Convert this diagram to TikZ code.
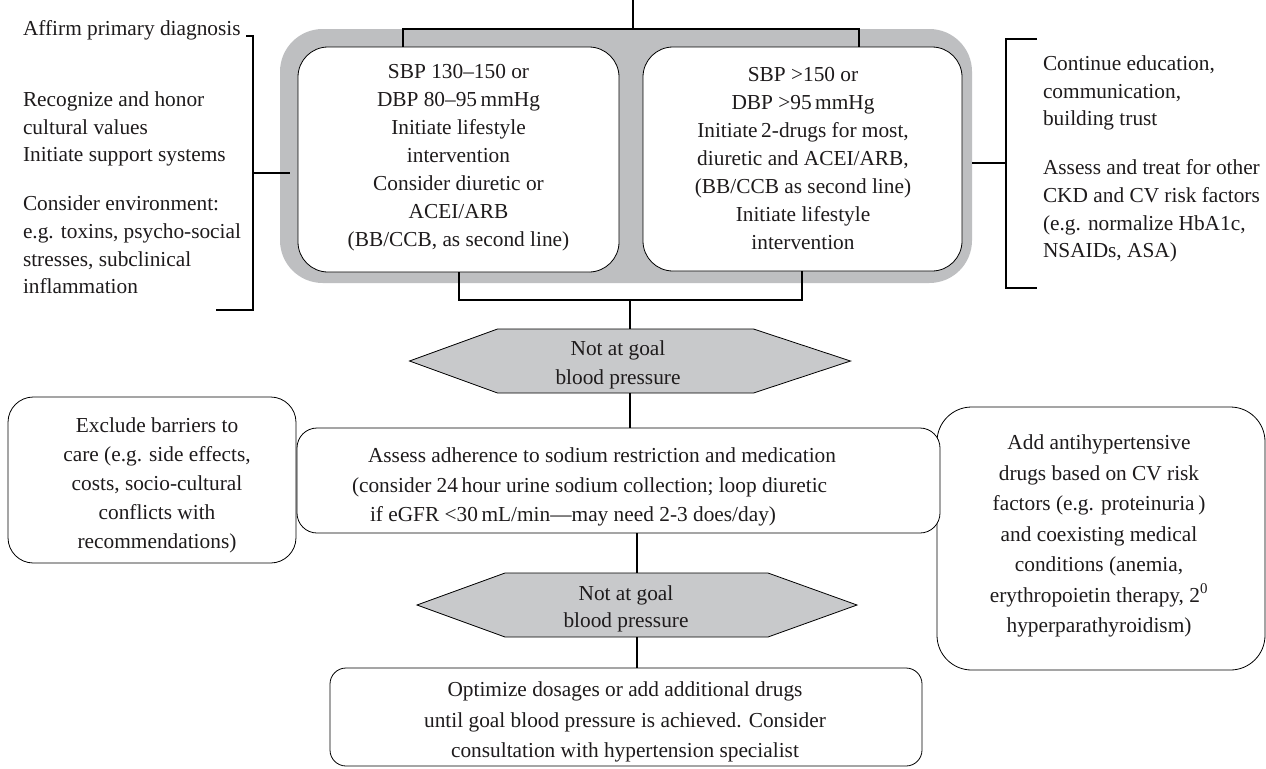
\documentclass[tikz,border=0pt]{standalone}
\usepackage{fontspec}
\setmainfont{Liberation Serif}
\usetikzlibrary{calc}
\definecolor{grpgray}{RGB}{190,191,193}
\definecolor{hexgray}{RGB}{200,201,203}
\definecolor{txt}{RGB}{30,27,28}
\newcommand{\myfont}[1]{\fontsize{16}{#1}\selectfont}
\begin{document}
\begin{tikzpicture}[x=0.75pt,y=-0.75pt,
  every node/.style={text=txt, inner sep=0pt, outer sep=0pt},
  conn/.style={draw=black, line width=0.85pt},
  box/.style={draw=black, fill=white, line width=0.6pt, rounded corners=#1},
  hexpath/.style={draw=black, fill=hexgray, line width=0.6pt},
  side/.style={anchor=west, align=left, font=\myfont{20.8pt}},
  intext/.style={align=center}]
\fill[white] (0,0) rectangle (1266,768);
\path[use as bounding box] (0,0) rectangle (1266,768);

% grey group band
\node[fill=grpgray, rounded corners=32pt, minimum width=519pt, minimum height=190.5pt] (group) at (626,156) {};
% top boxes
\node[box=22.5pt, minimum width=240.75pt, minimum height=168.75pt] (lbox) at (458.5,159.5) {};
\node[box=22.5pt, minimum width=239.25pt, minimum height=168pt] (rbox) at (802.5,159) {};
\node[intext, font=\myfont{21pt}] (lboxt) at (458.5,158) {SBP 130--150 or\\DBP 80--95\,mmHg\\Initiate lifestyle\\intervention\\Consider diuretic or\\ACEI/ARB\\(BB/CCB, as second line)};
\node[intext, font=\myfont{21pt}] (rboxt) at (803,159) {SBP >150 or\\DBP >95\,mmHg\\Initiate\,2-drugs for most,\\diuretic and ACEI/ARB,\\(BB/CCB as second line)\\Initiate lifestyle\\intervention};

% top connectors
\coordinate (topin) at (633,0);
\coordinate (jl) at (403,29);
\coordinate (jr) at (859,29);
\draw[conn] (topin) -- (topin |- group.north);
\draw[conn] (jl |- lbox.north) -- (jl) -- (jr) -- (jr |- rbox.north);

% side texts
\node[side] (lt1) at (23,30) {Affirm primary diagnosis};
\node[side] (lt2) at (23,129) {Recognize and honor\\cultural values\\Initiate support systems};
\node[side] (lt3) at (23,245) {Consider environment:\\e.g. toxins, psycho-social\\stresses, subclinical\\inflammation};
\node[side] (rt1) at (1043,93) {Continue education,\\communication,\\building trust};
\node[side] (rt2) at (1043,211) {Assess and treat for other\\CKD and CV risk factors\\(e.g. normalize HbA1c,\\NSAIDs, ASA)};

% left bracket
\coordinate (lbt) at (253,36);
\coordinate (lbb) at (253,310);
\coordinate (lbm) at (253,173);
\draw[conn] (246,36) -- (lbt) -- (lbb) -- (216,310);
\draw[conn] (lbm) -- ($(lbm -| group.west)+(10,0)$);
% right bracket
\coordinate (rbt) at (1006,39);
\coordinate (rbb) at (1006,288);
\coordinate (rbm) at (1006,163);
\draw[conn] (1037,39) -- (rbt) -- (rbb) -- (1037,288);
\draw[conn] (rbm) -- (rbm -| group.east);

% hexagon 1
\node[minimum width=330.75pt, minimum height=48pt] (hex1) at (630,361) {};
\draw[hexpath] (hex1.west) -- ($(hex1.north west)+(88,0)$) -- ($(hex1.north east)+(-97,0)$) -- (hex1.east) -- ($(hex1.south east)+(-97,0)$) -- ($(hex1.south west)+(88,0)$) -- cycle;
\node[intext, font=\myfont{22pt}] (hex1t) at (618,365) {Not at goal\\blood pressure};

% bottom connector of top group
\coordinate (bl) at (459,300);
\coordinate (br) at (802,300);
\draw[conn] (bl |- lbox.south) -- (bl) -- (br) -- (br |- rbox.south);
\draw[conn] (hex1.north |- bl) -- (hex1.north);

% middle row boxes
\node[box=19pt, minimum width=216pt, minimum height=124.5pt] (excl) at (152,480) {};
\node[intext, font=\myfont{21.75pt}] (exclt) at (157,485) {Exclude barriers to\\care (e.g. side effects,\\costs, socio-cultural\\conflicts with\\recommendations)};

\node[box=26pt, minimum width=246pt, minimum height=197.25pt] (addr) at (1101,538.5) {};
\node[intext, font=\myfont{22.9pt}] (addrt) at (1099,536) {Add antihypertensive\\drugs based on CV risk\\factors (e.g. proteinuria\,)\\and coexisting medical\\conditions (anemia,\\erythropoietin therapy, 2\textsuperscript{0}\\hyperparathyroidism)};

\node[box=15pt, minimum width=482.25pt, minimum height=78.75pt] (mid) at (618.5,480.5) {};
\node[anchor=west, align=left, font=\myfont{22pt}] (midt) at (352,487) {\hspace*{12pt}Assess adherence to sodium restriction and medication\\(consider 24\,hour urine sodium collection; loop diuretic\\\hspace*{13.5pt}if eGFR <30\,mL/min---may need 2-3 does/day)};

\draw[conn] (hex1.south) -- (hex1.south |- mid.north);

% hexagon 2
\node[minimum width=330pt, minimum height=48pt] (hex2) at (637,605) {};
\draw[hexpath] (hex2.west) -- ($(hex2.north west)+(88,0)$) -- ($(hex2.north east)+(-89,0)$) -- (hex2.east) -- ($(hex2.south east)+(-89,0)$) -- ($(hex2.south west)+(88,0)$) -- cycle;
\node[intext, font=\myfont{20.5pt}] (hex2t) at (626,609) {Not at goal\\blood pressure};
\draw[conn] (hex2.north |- mid.south) -- (hex2.north);

% bottom box
\node[box=12pt, minimum width=444pt, minimum height=73.5pt] (opt) at (626,717) {};
\node[intext, font=\myfont{22.9pt}] (optt) at (625,722) {Optimize dosages or add additional drugs\\until goal blood pressure is achieved. Consider\\consultation with hypertension specialist};
\draw[conn] (hex2.south) -- (hex2.south |- opt.north);
\end{tikzpicture}
\end{document}
